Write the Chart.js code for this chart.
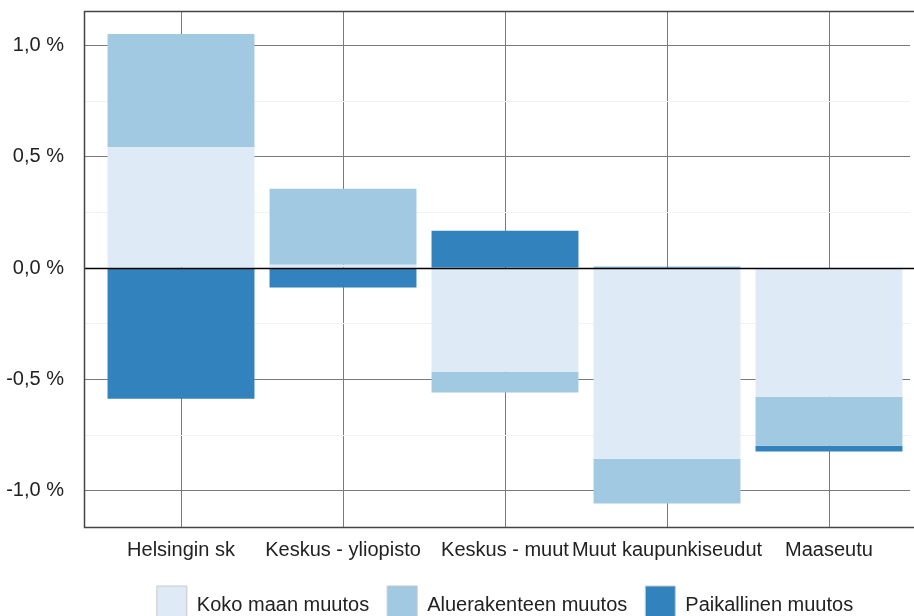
<!DOCTYPE html>
<html><head><meta charset="utf-8">
<script src="https://cdn.jsdelivr.net/npm/chart.js@4/dist/chart.umd.min.js"></script>
<style>html,body{margin:0;padding:0;overflow:hidden;background:#fff}#wrap{width:914px;height:634px}</style>
</head><body><div id="wrap"><canvas id="c" width="914" height="634"></canvas></div>
<script>
const categories = ['Helsingin sk', 'Keskus - yliopisto', 'Keskus - muut', 'Muut kaupunkiseudut', 'Maaseutu'];
const kokoMaan = [0.544, 0.015, -0.466, -0.857, -0.578];
const aluerakenne = [0.508, 0.341, -0.093, -0.200, -0.220];
const paikallinen = [-0.587, -0.087, 0.168, 0.006, -0.026];
const seriesNames = ['Koko maan muutos', 'Aluerakenteen muutos', 'Paikallinen muutos'];
const yTicks = [-1.0, -0.75, -0.5, -0.25, 0, 0.25, 0.5, 0.75, 1.0];

Chart.defaults.font.family = "'Liberation Sans', Arial, sans-serif";
Chart.defaults.color = '#222';

const isMajor = v => Math.abs(Math.round(v * 2) - v * 2) < 1e-6;
const noPad = s => { s.paddingTop = 0; s.paddingBottom = 0; s.paddingLeft = 0; s.paddingRight = 0; };

const framePlugin = {
  id: 'frame',
  afterDatasetsDraw(chart) {
    const { ctx, chartArea: a, scales: { y } } = chart;
    const left = a.left - 16;
    const right = chart.width;
    ctx.save();
    const y0 = Math.round(y.getPixelForValue(0)) + 0.5;
    ctx.strokeStyle = '#000';
    ctx.lineWidth = 1.5;
    ctx.beginPath(); ctx.moveTo(left, y0); ctx.lineTo(right, y0); ctx.stroke();
    ctx.strokeStyle = '#444';
    ctx.lineWidth = 1.5;
    ctx.beginPath();
    ctx.moveTo(right, a.top + 0.5); ctx.lineTo(left + 0.5, a.top + 0.5);
    ctx.lineTo(left + 0.5, a.bottom + 0.5); ctx.lineTo(right, a.bottom + 0.5);
    ctx.stroke();
    ctx.restore();
  }
};

new Chart(document.getElementById('c'), {
  type: 'bar',
  data: {
    labels: categories,
    datasets: [
      { label: seriesNames[0], data: kokoMaan, backgroundColor: '#deeaf5', borderWidth: 0 },
      { label: seriesNames[1], data: aluerakenne, backgroundColor: '#a1c9e1', borderWidth: 0 },
      { label: seriesNames[2], data: paikallinen, backgroundColor: '#3182bd', borderWidth: 0 }
    ]
  },
  options: {
    responsive: false,
    animation: false,
    devicePixelRatio: 1,
    layout: { padding: { top: 11, right: 4, left: 0, bottom: 0 } },
    datasets: { bar: { categoryPercentage: 1, barPercentage: 0.907 } },
    plugins: {
      tooltip: { enabled: false },
      legend: {
        position: 'bottom',
        fullSize: false,
        labels: {
          boxWidth: 30,
          boxHeight: 38,
          padding: 18,
          color: '#222',
          font: { size: 20 },
          generateLabels(chart) {
            const items = Chart.defaults.plugins.legend.labels.generateLabels(chart);
            items.forEach(i => { i.lineWidth = 1; i.strokeStyle = '#c8c8c8'; });
            return items;
          }
        }
      }
    },
    scales: {
      x: {
        stacked: true,
        offset: true,
        border: { display: false },
        grid: { offset: false, drawTicks: false, color: '#7a7a7a', lineWidth: 1 },
        ticks: { padding: 11, color: '#222', font: { size: 20 }, maxRotation: 0, autoSkip: false },
        afterFit(scale) { scale.height = 41; noPad(scale); }
      },
      y: {
        stacked: true,
        min: -1.163,
        max: 1.155,
        border: { display: false },
        afterBuildTicks(scale) { scale.ticks = yTicks.map(v => ({ value: v })); },
        afterFit(scale) { scale.width = 100; noPad(scale); },
        grid: {
          drawTicks: true,
          tickLength: 16,
          color: c => isMajor(c.tick.value) ? '#7a7a7a' : '#f2f2f2',
          lineWidth: 1
        },
        ticks: {
          padding: 20,
          color: '#222',
          font: { size: 20 },
          callback: v => isMajor(v) ? (Math.abs(v) < 1e-9 ? 0 : v).toFixed(1).replace('.', ',') + ' %' : ''
        }
      }
    }
  },
  plugins: [framePlugin]
});
</script>
</body></html>
